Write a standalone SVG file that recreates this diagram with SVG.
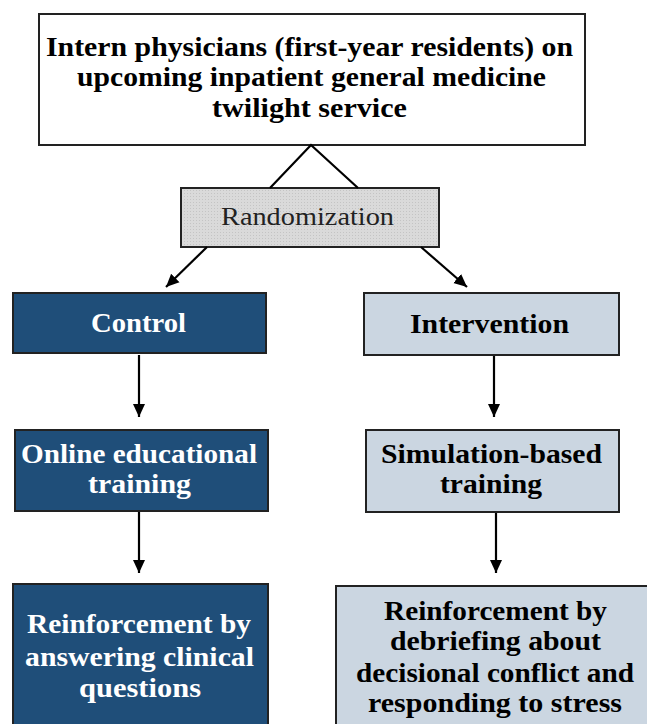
<svg xmlns="http://www.w3.org/2000/svg" width="647" height="724" viewBox="0 0 647 724">
<defs>
<marker id="ah" markerUnits="userSpaceOnUse" markerWidth="14" markerHeight="14" viewBox="0 0 14 14" refX="13" refY="7" orient="auto">
<path d="M0,1 L13,7 L0,13 Z" fill="#000"/>
</marker>
<pattern id="dots" width="3" height="3" patternUnits="userSpaceOnUse">
<rect width="3" height="3" fill="#dadada"/>
<rect x="1" y="1" width="1" height="1" fill="#c4c4c4"/>
</pattern>
</defs>
<style>
.box{stroke:#222;stroke-width:2}
.t{font-family:"Liberation Serif","Times New Roman",serif;font-weight:bold;font-size:27px;text-anchor:middle}
.dark{fill:#1f4e79}
.light{fill:#cbd6e1}
.wt{fill:#fff}
.bt{fill:#000}
.conn{stroke:#000;stroke-width:2.2;fill:none}
</style>
<rect width="647" height="724" fill="#fff"/>
<g id="top">
<rect class="box" x="39" y="14" width="546" height="131" fill="#fff"/>
<text class="t bt" x="309.5" y="56" textLength="527" lengthAdjust="spacingAndGlyphs">Intern physicians (first-year residents) on</text>
<text class="t bt" x="311.5" y="86" textLength="469" lengthAdjust="spacingAndGlyphs">upcoming inpatient general medicine</text>
<text class="t bt" x="309.5" y="117" textLength="195" lengthAdjust="spacingAndGlyphs">twilight service</text>
</g>
<g id="randomization">
<rect class="box" x="181" y="188" width="258" height="59" fill="url(#dots)"/>
<text x="307.5" y="225" font-family="'Liberation Serif','Times New Roman',serif" font-size="26" text-anchor="middle" fill="#222" textLength="173" lengthAdjust="spacingAndGlyphs">Randomization</text>
</g>
<g id="control">
<rect class="box dark" x="13" y="293" width="253" height="60"/>
<text class="t wt" x="138.5" y="332" textLength="95" lengthAdjust="spacingAndGlyphs">Control</text>
</g>
<g id="intervention">
<rect class="box light" x="364" y="293" width="255" height="62"/>
<text class="t bt" x="489.5" y="333" textLength="159" lengthAdjust="spacingAndGlyphs">Intervention</text>
</g>
<g id="online">
<rect class="box dark" x="15" y="430" width="253" height="81"/>
<text class="t wt" x="139" y="463" textLength="236" lengthAdjust="spacingAndGlyphs">Online educational</text>
<text class="t wt" x="139.5" y="493" textLength="103" lengthAdjust="spacingAndGlyphs">training</text>
</g>
<g id="simulation">
<rect class="box light" x="366" y="430" width="253" height="82"/>
<text class="t bt" x="491.5" y="463" textLength="221" lengthAdjust="spacingAndGlyphs">Simulation-based</text>
<text class="t bt" x="491" y="493" textLength="102" lengthAdjust="spacingAndGlyphs">training</text>
</g>
<g id="reinforce-control">
<rect class="box dark" x="13" y="584" width="255" height="150"/>
<text class="t wt" x="139" y="633" textLength="224" lengthAdjust="spacingAndGlyphs">Reinforcement by</text>
<text class="t wt" x="139.5" y="666" textLength="229" lengthAdjust="spacingAndGlyphs">answering clinical</text>
<text class="t wt" x="140" y="697" textLength="122" lengthAdjust="spacingAndGlyphs">questions</text>
</g>
<g id="reinforce-intervention">
<rect class="box light" x="336" y="586" width="320" height="150"/>
<text class="t bt" x="495.5" y="620" textLength="223" lengthAdjust="spacingAndGlyphs">Reinforcement by</text>
<text class="t bt" x="495.5" y="650" textLength="211" lengthAdjust="spacingAndGlyphs">debriefing about</text>
<text class="t bt" x="495" y="682" textLength="278" lengthAdjust="spacingAndGlyphs">decisional conflict and</text>
<text class="t bt" x="495" y="712" textLength="254" lengthAdjust="spacingAndGlyphs">responding to stress</text>
</g>
<g id="connectors">
<polyline class="conn" points="270,188 311,145 358,188"/>
<line class="conn" x1="207" y1="247" x2="166" y2="287" marker-end="url(#ah)"/>
<line class="conn" x1="421" y1="247" x2="467" y2="287" marker-end="url(#ah)"/>
<line class="conn" x1="139" y1="355" x2="139" y2="417" marker-end="url(#ah)"/>
<line class="conn" x1="494" y1="356" x2="494" y2="417" marker-end="url(#ah)"/>
<line class="conn" x1="139" y1="512" x2="139" y2="573" marker-end="url(#ah)"/>
<line class="conn" x1="496" y1="513" x2="496" y2="573" marker-end="url(#ah)"/>
</g>
</svg>
